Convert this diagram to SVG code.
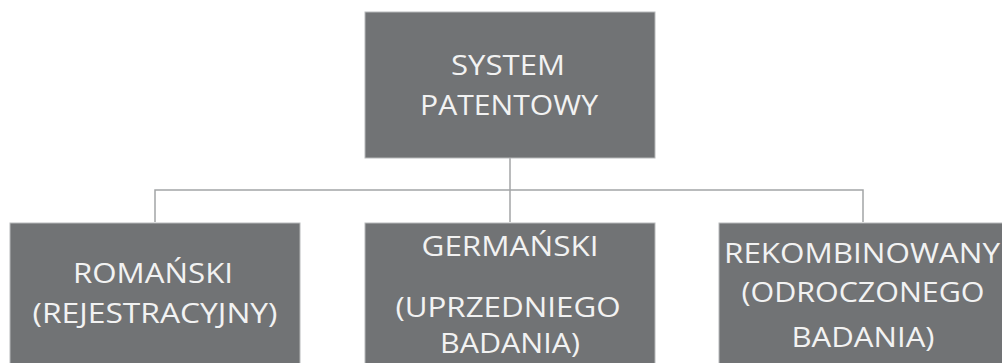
<svg xmlns="http://www.w3.org/2000/svg" width="1002" height="363" viewBox="0 0 1002 363">
  <style>
    .box { fill: #717375; stroke: #b8babb; stroke-width: 1; }
    .lbl { font-family: "Open Sans", "Liberation Sans", sans-serif; font-size: 28px; fill: #f2f2f2; text-anchor: middle; }
    .wire { fill: none; stroke: #a3a5a6; stroke-width: 1.5; }
  </style>
  <rect width="1002" height="363" fill="#ffffff"/>

  <g id="connectors">
    <path class="wire" d="M510 158 V222"/>
    <path class="wire" d="M155 222 V190 H863 V222"/>
  </g>

  <g id="system">
    <rect class="box" x="365" y="12" width="290" height="146"/>
    <text class="lbl" x="508" y="75" textLength="114" lengthAdjust="spacingAndGlyphs">SYSTEM</text>
    <text class="lbl" x="509" y="115" textLength="178" lengthAdjust="spacingAndGlyphs">PATENTOWY</text>
  </g>

  <g id="romanski">
    <rect class="box" x="10" y="223" width="290" height="150"/>
    <text class="lbl" x="153" y="283" textLength="160" lengthAdjust="spacingAndGlyphs">ROMAŃSKI</text>
    <text class="lbl" x="155" y="323" textLength="245" lengthAdjust="spacingAndGlyphs">(REJESTRACYJNY)</text>
  </g>

  <g id="germanski">
    <rect class="box" x="365" y="223" width="290" height="150"/>
    <text class="lbl" x="510" y="256" textLength="177" lengthAdjust="spacingAndGlyphs">GERMAŃSKI</text>
    <text class="lbl" x="508" y="317" textLength="225" lengthAdjust="spacingAndGlyphs">(UPRZEDNIEGO</text>
    <text class="lbl" x="510" y="353" textLength="140" lengthAdjust="spacingAndGlyphs">BADANIA)</text>
  </g>

  <g id="rekombinowany">
    <rect class="box" x="719" y="223" width="290" height="150"/>
    <text class="lbl" x="862" y="263" textLength="276" lengthAdjust="spacingAndGlyphs">REKOMBINOWANY</text>
    <text class="lbl" x="863" y="302" textLength="243" lengthAdjust="spacingAndGlyphs">(ODROCZONEGO</text>
    <text class="lbl" x="863" y="347" textLength="143" lengthAdjust="spacingAndGlyphs">BADANIA)</text>
  </g>
</svg>
